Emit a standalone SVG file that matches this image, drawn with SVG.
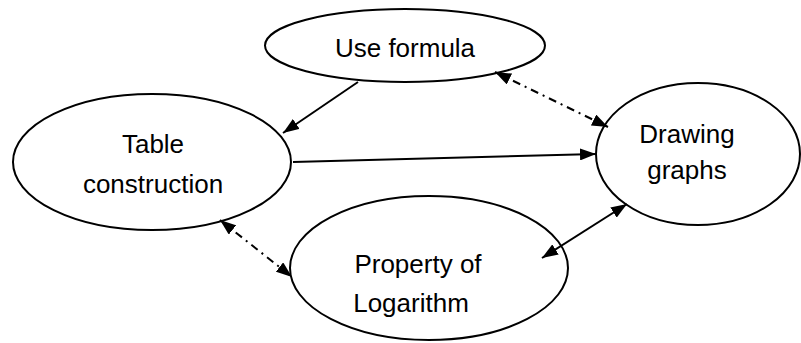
<svg xmlns="http://www.w3.org/2000/svg" width="801" height="343" viewBox="0 0 801 343">
<style>
.node ellipse{fill:#fff;stroke:#000;stroke-width:2}
.node text{font-family:"Liberation Sans",Arial,sans-serif;font-size:26px;fill:#000;text-anchor:middle}
.conn line{stroke:#000;stroke-width:2;fill:none}
.dd{stroke-dasharray:8 5 2 5}
</style>
<defs>
<marker id="ah" viewBox="0 0 10 10" refX="10" refY="5" markerWidth="8" markerHeight="8" markerUnits="userSpaceOnUse" orient="auto-start-reverse">
<path d="M0,0 L10,5 L0,10 z" fill="#000"/>
</marker>
<marker id="a" viewBox="0 0 16 12" refX="16" refY="6" markerWidth="16" markerHeight="12" markerUnits="userSpaceOnUse" orient="auto-start-reverse">
<path d="M0,0 L16,6 L0,12 z" fill="#000"/>
</marker>
</defs>
<rect width="801" height="343" fill="#fff"/>
<g id="use-formula" class="node">
<ellipse cx="405" cy="45.5" rx="140" ry="36.5"/>
<text x="405" y="57">Use formula</text>
</g>
<g id="table-construction" class="node">
<ellipse cx="152" cy="162" rx="139" ry="68"/>
<text x="153" y="153">Table</text>
<text x="153" y="193">construction</text>
</g>
<g id="drawing-graphs" class="node">
<ellipse cx="698" cy="154" rx="102" ry="71"/>
<text x="687" y="143">Drawing</text>
<text x="687" y="179">graphs</text>
</g>
<g id="property-logarithm" class="node">
<ellipse cx="429" cy="268" rx="139" ry="72"/>
<text x="418" y="273">Property of</text>
<text x="411" y="312">Logarithm</text>
</g>
<g id="connectors" class="conn">
<line x1="358" y1="82" x2="283" y2="133" marker-end="url(#a)"/>
<line x1="293" y1="162" x2="596" y2="154" marker-end="url(#a)"/>
<line class="dd" x1="495" y1="72" x2="608" y2="127" marker-start="url(#a)" marker-end="url(#a)"/>
<line class="dd" x1="220" y1="220" x2="292" y2="277" marker-start="url(#a)" marker-end="url(#a)"/>
<line x1="542" y1="258" x2="627" y2="204" marker-start="url(#a)" marker-end="url(#a)"/>
</g>
</svg>
